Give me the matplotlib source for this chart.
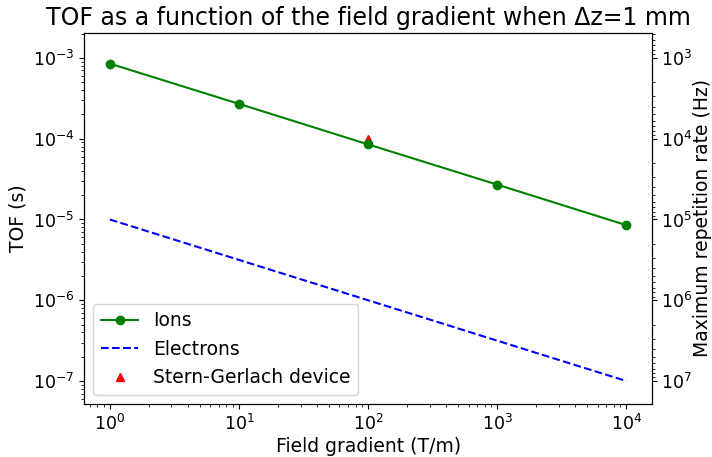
import numpy as np
import matplotlib
matplotlib.use("Agg")
import matplotlib.pyplot as plt

# field gradient (T/m)
gradient = [1, 10, 100, 1000, 10000]
# time of flight (s)
tof_ions = [8.5e-4, 2.7e-4, 8.5e-5, 2.7e-5, 8.5e-6]
tof_electrons = [1e-5, 3.16e-6, 1e-6, 3.16e-7, 1e-7]
sg_gradient = [100]
sg_tof = [1.0e-4]

plt.rcParams['font.size'] = 13.5
plt.rcParams['xtick.labelsize'] = 12.5
plt.rcParams['ytick.labelsize'] = 12.5

fig, ax = plt.subplots(figsize=(7.12, 4.57), dpi=100)

ax.plot(sg_gradient, sg_tof, '^', color='red', markersize=6, label='Stern-Gerlach device', zorder=2)
ax.plot(gradient, tof_ions, 'o-', color='green', markersize=6, label='Ions', zorder=3)
ax.plot(gradient, tof_electrons, '--', color='blue', label='Electrons', zorder=3)

ax.set_xscale('log')
ax.set_yscale('log')
ax.set_ylim(5.2e-8, 2.04e-3)
ax.set_xlabel('Field gradient (T/m)', labelpad=2)
ax.set_ylabel('TOF (s)')
ax.set_title('TOF as a function of the field gradient when Δz=1 mm', fontsize=17)

handles, labels = ax.get_legend_handles_labels()
order = [1, 2, 0]
ax.legend([handles[i] for i in order], [labels[i] for i in order], loc='lower left', fontsize=13.5)

# right axis: repetition rate = 1/TOF
ax2 = ax.twinx()
ax2.set_yscale('log')
lo, hi = ax.get_ylim()
ax2.set_ylim(1 / lo, 1 / hi)
ax2.tick_params(axis='y', pad=2.5)
ax2.set_ylabel('Maximum repetition rate (Hz)', labelpad=1)

fig.subplots_adjust(left=0.118, right=0.916, top=0.928, bottom=0.116)
fig.savefig('out.png', dpi=100)
